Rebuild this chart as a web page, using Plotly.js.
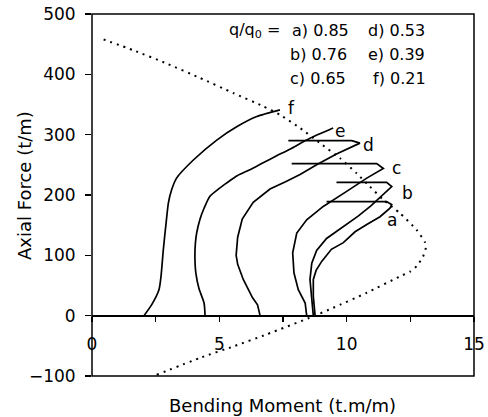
<!DOCTYPE html>
<html>
<head>
<meta charset="utf-8">
<script src="https://cdn.plot.ly/plotly-3.0.1.min.js"></script>
<style>html,body{margin:0;padding:0;background:#fff;}</style>
</head>
<body>
<div id="chart" style="width:488px;height:417px;"></div>
<script>
// Curves of axial force vs bending moment for each q/q0
const curveNames = ["a", "b", "c", "d", "e", "f"];
const ratios = ["0.85", "0.76", "0.65", "0.53", "0.39", "0.21"];

const fX = [2.04, 2.34, 2.63, 2.71, 2.80, 2.91, 3.00, 3.13, 3.32, 3.98, 4.90, 5.68, 6.47, 7.38];
const fY = [0, 18, 43, 65, 109, 154, 187, 209, 228, 258, 291, 313, 330, 341];

const eX = [4.44, 4.40, 4.20, 4.08, 4.04, 4.06, 4.11, 4.24, 4.40, 4.63, 5.00, 5.29, 5.70, 6.20, 6.70, 7.25, 7.77, 8.56, 9.47];
const eY = [0, 21, 45, 70, 98, 120, 137, 160, 178, 198, 211, 220, 232, 242, 253, 265, 276, 294, 311];

const dX = [6.60, 6.50, 6.30, 5.94, 5.72, 5.66, 5.72, 5.90, 6.33, 6.99, 7.60, 8.17, 8.82, 9.60, 10.52, 10.20, 7.71];
const dY = [0, 18, 30, 60, 85, 100, 130, 160, 188, 210, 222, 234, 250, 268, 286, 290, 290];

const cX = [8.43, 8.37, 8.10, 7.93, 7.88, 8.04, 8.43, 9.08, 10.00, 10.79, 11.44, 11.18, 7.84];
const cY = [0, 21, 43, 71, 104, 137, 159, 181, 206, 228, 244, 252, 252];

const bX = [8.69, 8.63, 8.56, 8.63, 8.82, 9.21, 9.87, 10.45, 10.95, 11.35, 11.77, 11.57, 9.60];
const bY = [0, 32, 60, 87, 108, 128, 148, 165, 182, 198, 214, 221, 221];

const aX = [8.76, 8.69, 8.69, 8.80, 9.02, 9.40, 9.87, 10.33, 10.79, 11.31, 11.70, 11.77, 11.57, 9.21];
const aY = [0, 32, 60, 75, 90, 110, 121, 139, 151, 164, 178, 184, 189, 189];

// Interaction (failure) envelope, dotted
const envX = [2.54, 4.24, 5.55, 6.86, 8.69, 9.47, 10.79, 12.09, 12.49, 12.75, 13.00, 13.11, 13.07, 12.75, 12.09, 11.44, 10.91, 10.39, 9.74, 8.95, 8.17, 7.38, 6.73, 5.55, 4.24, 2.93, 1.62, 0.31];
const envY = [-98, -70, -51, -31, -1, 13, 38, 65, 73, 82, 98, 113, 122, 142, 170, 192, 214, 236, 261, 286, 311, 333, 347, 369, 394, 418, 440, 460];

// Label anchor points (data coords) for curve letters
const labelX = [11.78, 12.37, 11.97, 10.84, 9.74, 7.85];
const labelY = [159, 204, 245, 283, 306, 344];

const xTickVals = [0, 5, 10, 15];
const xMinorVals = [2.5, 7.5, 12.5];
const yTickVals = [-100, 0, 100, 200, 300, 400, 500];

const FONT = "DejaVu Sans, sans-serif";

const curves = [[aX, aY], [bX, bY], [cX, cY], [dX, dY], [eX, eY], [fX, fY]];
const traces = curves.map((c, i) => ({
  x: c[0], y: c[1], type: "scatter", mode: "lines",
  line: i >= 4 ? {color: "#000", width: 1.7, shape: "spline", smoothing: 0.6}
               : {color: "#000", width: 1.7},
  name: curveNames[i], hoverinfo: "skip"
}));
traces.push({
  x: envX, y: envY, type: "scatter", mode: "lines",
  line: {color: "#000", width: 2, dash: "2px,5px", shape: "spline", smoothing: 0.5},
  name: "envelope", hoverinfo: "skip"
});

const annotations = curveNames.map((n, i) => ({
  x: labelX[i], y: labelY[i], xref: "x", yref: "y", text: n, showarrow: false,
  font: {family: FONT, size: 17, color: "#000"}, xanchor: "center", yanchor: "middle"
}));

const legFont = {family: FONT, size: 16, color: "#000"};
function leg(text, px, py, anchor) {
  return {x: (px - 92) / 382, y: (376 - py) / 362, xref: "paper", yref: "paper",
    text: text, showarrow: false, font: legFont, xanchor: anchor, yanchor: "middle"};
}
annotations.push(leg("q/q<sub>0</sub> =", 282, 30, "right"));
annotations.push(leg(curveNames[0] + ") " + ratios[0], 290, 30, "left"));
annotations.push(leg(curveNames[1] + ") " + ratios[1], 288, 55, "left"));
annotations.push(leg(curveNames[2] + ") " + ratios[2], 288, 78, "left"));
annotations.push(leg(curveNames[3] + ") " + ratios[3], 366, 30, "left"));
annotations.push(leg(curveNames[4] + ") " + ratios[4], 366, 55, "left"));
annotations.push(leg(curveNames[5] + ") " + ratios[5], 371, 78, "left"));

// axis titles
annotations.push({x: (282 - 92) / 382, y: (376 - 405) / 362, xref: "paper", yref: "paper",
  text: "Bending Moment (t.m/m)", showarrow: false, font: {family: FONT, size: 18, color: "#000"},
  xanchor: "center", yanchor: "middle"});
annotations.push({x: (24 - 92) / 382, y: (376 - 186) / 362, xref: "paper", yref: "paper",
  text: "Axial Force (t/m)", showarrow: false, textangle: -90, font: {family: FONT, size: 18, color: "#000"},
  xanchor: "center", yanchor: "middle"});

const layout = {
  width: 488, height: 417,
  margin: {l: 92, r: 14, t: 14, b: 41, pad: 0},
  paper_bgcolor: "#fff", plot_bgcolor: "#fff",
  showlegend: false,
  xaxis: {
    range: [0, 15], anchor: "free", position: 1 / 6,
    showline: true, linewidth: 2, linecolor: "#000",
    ticks: "outside", ticklen: 5, tickwidth: 1.5, tickcolor: "#000",
    tickvals: xTickVals,
    minor: {tickvals: xMinorVals, ticks: "outside", ticklen: 5, tickwidth: 1.5, tickcolor: "#000", showgrid: false},
    showgrid: false, zeroline: false,
    tickfont: {family: FONT, size: 17, color: "#000"},
    ticklabelstandoff: 8
  },
  yaxis: {
    range: [-100, 500],
    tickvals: yTickVals,
    ticks: "outside", ticklen: 6, tickwidth: 1.5, tickcolor: "#000",
    showline: false, showgrid: false, zeroline: false,
    tickfont: {family: FONT, size: 17, color: "#000"},
    ticklabelstandoff: 6
  },
  shapes: [{type: "rect", xref: "paper", yref: "paper", x0: 0, x1: 1, y0: 0, y1: 1,
    line: {color: "#000", width: 1.5}, layer: "above"}],
  annotations: annotations
};

Plotly.newPlot("chart", traces, layout, {staticPlot: true, displayModeBar: false});
</script>
</body>
</html>
